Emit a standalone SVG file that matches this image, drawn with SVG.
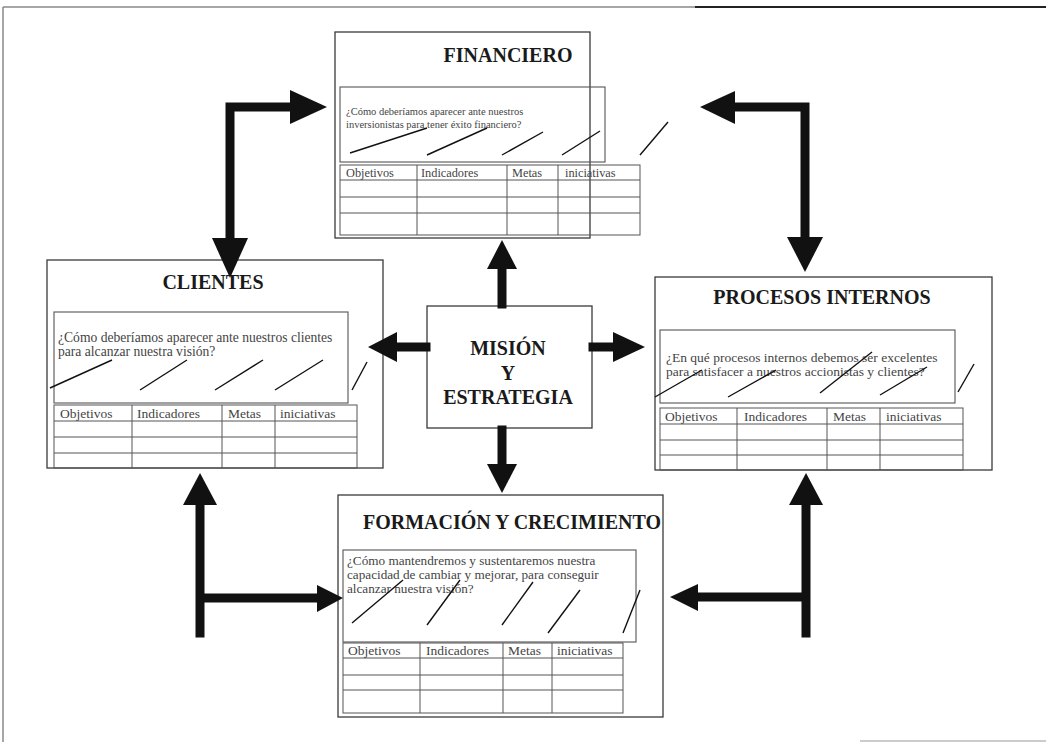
<svg xmlns="http://www.w3.org/2000/svg" width="1046" height="742" viewBox="0 0 1046 742">
<style>
.box{fill:none;stroke:#3a3a3a;stroke-width:1.3}
.inner{fill:none;stroke:#555;stroke-width:1.1}
.tl{fill:none;stroke:#555;stroke-width:1}
.sl{stroke:#111;stroke-width:1.4;fill:none}
.title{font-family:"Liberation Serif","Times New Roman",serif;font-weight:bold;font-size:20px;fill:#1a1a1a;text-anchor:middle}
.q{font-family:"Liberation Serif","Times New Roman",serif;fill:#444}
.h{font-family:"Liberation Serif","Times New Roman",serif;fill:#444}
.shaft{fill:none;stroke:#111;stroke-width:9;stroke-linecap:square}
.head{fill:#111}
</style>
<rect width="1046" height="742" fill="#fff"/>
<g id="frame">
<line x1="3" y1="7" x2="695" y2="7" stroke="#888" stroke-width="1.5"/>
<line x1="695" y1="7" x2="1046" y2="7" stroke="#222" stroke-width="2.2"/>
<line x1="3" y1="7" x2="3" y2="742" stroke="#888" stroke-width="1.5"/>
<line x1="860" y1="741" x2="1046" y2="741" stroke="#999" stroke-width="1.2"/>
</g>

<g id="financiero">
<rect class="box" x="335" y="32" width="255" height="206"/>
<text class="title" x="508" y="62">FINANCIERO</text>
<rect class="inner" x="340" y="87" width="265" height="75"/>
<text class="q" font-size="10.5" x="346" y="115">¿Cómo deberíamos aparecer ante nuestros</text>
<text class="q" font-size="10.5" x="346" y="128">inversionistas para tener éxito financiero?</text>
<line class="sl" x1="350" y1="153" x2="427" y2="128"/>
<line class="sl" x1="427" y1="155" x2="487" y2="128"/>
<line class="sl" x1="502" y1="155" x2="543" y2="132"/>
<line class="sl" x1="562" y1="155" x2="600" y2="131"/>
<line class="sl" x1="640" y1="155" x2="668" y2="122"/>
<rect class="tl" x="340" y="165" width="300" height="70"/>
<line class="tl" x1="340" y1="180" x2="640" y2="180"/>
<line class="tl" x1="340" y1="197" x2="640" y2="197"/>
<line class="tl" x1="340" y1="213" x2="640" y2="213"/>
<line class="tl" x1="417" y1="165" x2="417" y2="235"/>
<line class="tl" x1="507" y1="165" x2="507" y2="235"/>
<line class="tl" x1="558" y1="165" x2="558" y2="235"/>
<text class="h" font-size="12.3" x="346" y="177">Objetivos</text>
<text class="h" font-size="12.3" x="421" y="177">Indicadores</text>
<text class="h" font-size="12.3" x="512" y="177">Metas</text>
<text class="h" font-size="12.3" x="565" y="177">iniciativas</text>
</g>

<g id="clientes">
<rect class="box" x="47" y="260" width="336" height="208"/>
<text class="title" x="213" y="289">CLIENTES</text>
<rect class="inner" x="54" y="312" width="294" height="91"/>
<text class="q" font-size="13.6" x="58" y="342">¿Cómo deberíamos aparecer ante nuestros clientes</text>
<text class="q" font-size="13.6" x="58" y="356">para alcanzar nuestra visión?</text>
<line class="sl" x1="50" y1="388" x2="112" y2="360"/>
<line class="sl" x1="140" y1="390" x2="187" y2="360"/>
<line class="sl" x1="215" y1="390" x2="263" y2="360"/>
<line class="sl" x1="275" y1="390" x2="323" y2="360"/>
<line class="sl" x1="352" y1="390" x2="367" y2="362"/>
<rect class="tl" x="54" y="405" width="303" height="63"/>
<line class="tl" x1="54" y1="421" x2="357" y2="421"/>
<line class="tl" x1="54" y1="437" x2="357" y2="437"/>
<line class="tl" x1="54" y1="453" x2="357" y2="453"/>
<line class="tl" x1="132" y1="405" x2="132" y2="468"/>
<line class="tl" x1="222" y1="405" x2="222" y2="468"/>
<line class="tl" x1="275" y1="405" x2="275" y2="468"/>
<text class="h" font-size="13.5" x="60" y="418">Objetivos</text>
<text class="h" font-size="13.5" x="137" y="418">Indicadores</text>
<text class="h" font-size="13.5" x="228" y="418">Metas</text>
<text class="h" font-size="13.5" x="280" y="418">iniciativas</text>
</g>

<g id="procesos">
<rect class="box" x="655" y="277" width="337" height="193"/>
<text class="title" x="822" y="304">PROCESOS INTERNOS</text>
<rect class="inner" x="660" y="330" width="295" height="73"/>
<text class="q" font-size="13.5" x="666" y="362">¿En qué procesos internos debemos ser excelentes</text>
<text class="q" font-size="13.5" x="666" y="376">para satisfacer a nuestros accionistas y clientes?</text>
<line class="sl" x1="655" y1="397" x2="702" y2="370"/>
<line class="sl" x1="728" y1="397" x2="776" y2="370"/>
<line class="sl" x1="820" y1="393" x2="872" y2="352"/>
<line class="sl" x1="880" y1="395" x2="927" y2="367"/>
<line class="sl" x1="958" y1="392" x2="974" y2="364"/>
<rect class="tl" x="660" y="408" width="303" height="62"/>
<line class="tl" x1="660" y1="424" x2="963" y2="424"/>
<line class="tl" x1="660" y1="440" x2="963" y2="440"/>
<line class="tl" x1="660" y1="455" x2="963" y2="455"/>
<line class="tl" x1="737" y1="408" x2="737" y2="470"/>
<line class="tl" x1="827" y1="408" x2="827" y2="470"/>
<line class="tl" x1="880" y1="408" x2="880" y2="470"/>
<text class="h" font-size="13.5" x="665" y="421">Objetivos</text>
<text class="h" font-size="13.5" x="744" y="421">Indicadores</text>
<text class="h" font-size="13.5" x="833" y="421">Metas</text>
<text class="h" font-size="13.5" x="886" y="421">iniciativas</text>
</g>

<g id="formacion">
<rect class="box" x="338" y="495" width="325" height="222"/>
<text class="title" x="512" y="529">FORMACIÓN Y CRECIMIENTO</text>
<rect class="inner" x="343" y="550" width="293" height="92"/>
<text class="q" font-size="13.2" x="347" y="565">¿Cómo mantendremos y sustentaremos nuestra</text>
<text class="q" font-size="13.2" x="347" y="579">capacidad de cambiar y mejorar, para conseguir</text>
<text class="q" font-size="13.2" x="347" y="593">alcanzar nuestra visión?</text>
<line class="sl" x1="352" y1="623" x2="403" y2="580"/>
<line class="sl" x1="427" y1="625" x2="460" y2="580"/>
<line class="sl" x1="502" y1="625" x2="533" y2="582"/>
<line class="sl" x1="548" y1="633" x2="580" y2="590"/>
<line class="sl" x1="623" y1="633" x2="640" y2="590"/>
<rect class="tl" x="343" y="643" width="280" height="70"/>
<line class="tl" x1="343" y1="658" x2="623" y2="658"/>
<line class="tl" x1="343" y1="675" x2="623" y2="675"/>
<line class="tl" x1="343" y1="690" x2="623" y2="690"/>
<line class="tl" x1="420" y1="643" x2="420" y2="713"/>
<line class="tl" x1="503" y1="643" x2="503" y2="713"/>
<line class="tl" x1="552" y1="643" x2="552" y2="713"/>
<text class="h" font-size="13.5" x="348" y="655">Objetivos</text>
<text class="h" font-size="13.5" x="426" y="655">Indicadores</text>
<text class="h" font-size="13.5" x="508" y="655">Metas</text>
<text class="h" font-size="13.5" x="557" y="655">iniciativas</text>
</g>

<g id="mision">
<rect class="box" x="427" y="306" width="165" height="122"/>
<text class="title" x="508" y="355">MISIÓN</text>
<text class="title" x="508" y="380">Y</text>
<text class="title" x="508" y="404">ESTRATEGIA</text>
</g>

<g id="connectors">
<line class="shaft" x1="502" y1="304" x2="502" y2="268"/>
<polygon class="head" points="502,240 487,269 517,269"/>
<line class="shaft" x1="426" y1="347" x2="396" y2="347"/>
<polygon class="head" points="368,347 397,332 397,362"/>
<line class="shaft" x1="593" y1="347" x2="614" y2="347"/>
<polygon class="head" points="645,347 613,332 613,362"/>
<line class="shaft" x1="502" y1="430" x2="502" y2="465"/>
<polygon class="head" points="502,493 487,464 517,464"/>

<path class="shaft" d="M230 240 V107 H290" stroke-linecap="butt"/>
<polygon class="head" points="327,107 290,90 290,124"/>
<polygon class="head" points="230,278 212,238 248,238"/>

<path class="shaft" d="M805 240 V107 H734" stroke-linecap="butt"/>
<polygon class="head" points="700,107 735,91 735,124"/>
<polygon class="head" points="805,272 787,237 823,237"/>

<path class="shaft" d="M200 504 V633 M200 598 H318" stroke-linecap="butt"/>
<polygon class="head" points="200,473 183,505 217,505"/>
<polygon class="head" points="343,598 317,585 317,612"/>

<path class="shaft" d="M806 504 V633 M806 597 H697" stroke-linecap="butt"/>
<polygon class="head" points="806,473 789,505 823,505"/>
<polygon class="head" points="670,597 698,584 698,611"/>
</g>
</svg>
